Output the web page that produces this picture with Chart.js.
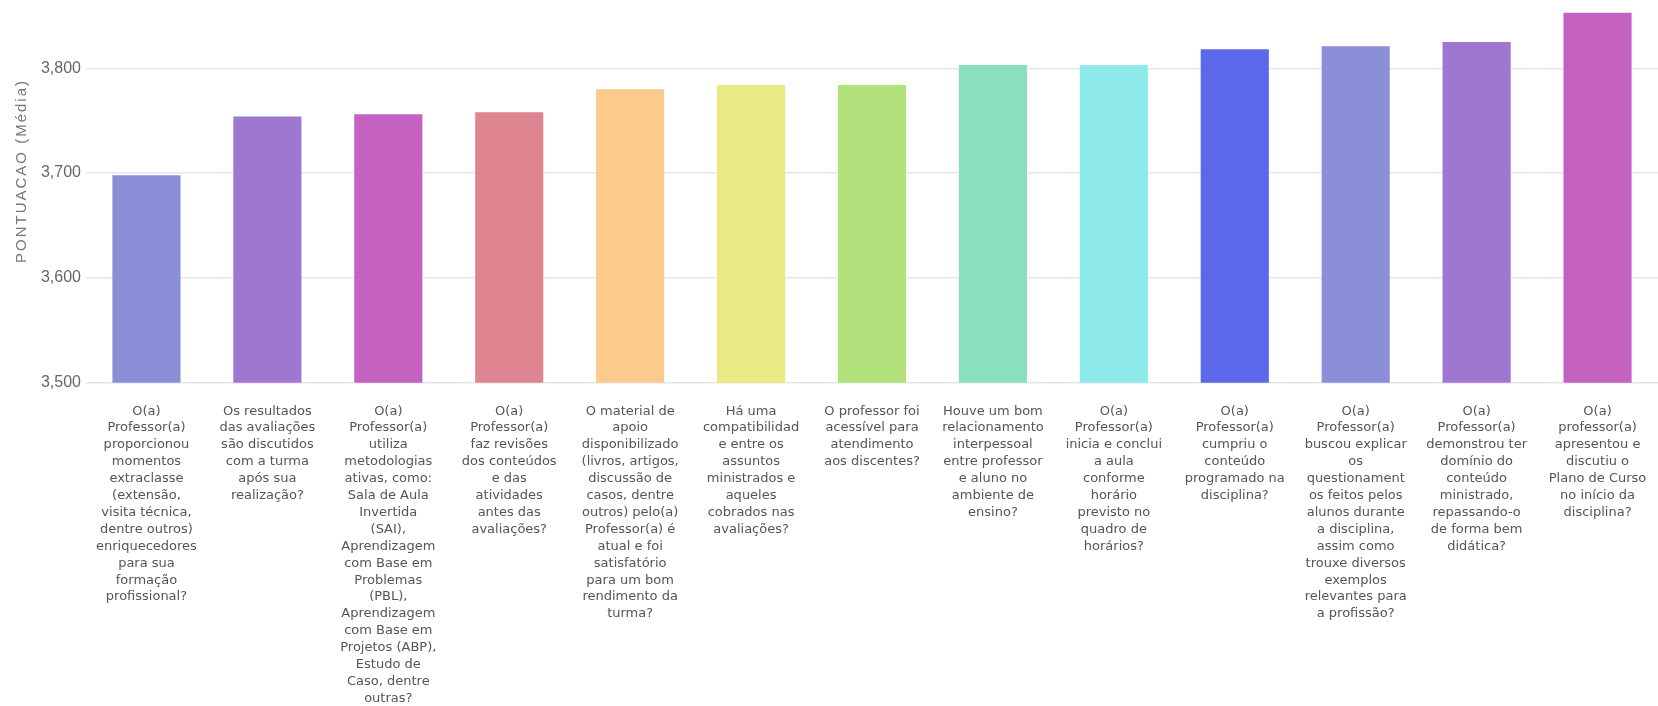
<!DOCTYPE html>
<html>
<head>
<meta charset="utf-8">
<script src="https://cdn.jsdelivr.net/npm/chart.js@4.4.1/dist/chart.umd.min.js"></script>
<style>
  html, body { margin: 0; padding: 0; background: #ffffff; }
  #wrap { width: 1658px; height: 706px; }
</style>
</head>
<body>
<div id="wrap"><canvas id="c" width="1658" height="706"></canvas></div>
<script>
const categories = [
  ["O(a)", "Professor(a)", "proporcionou", "momentos", "extraclasse", "(extensão,", "visita técnica,", "dentre outros)", "enriquecedores", "para sua", "formação", "profissional?"],
  ["Os resultados", "das avaliações", "são discutidos", "com a turma", "após sua", "realização?"],
  ["O(a)", "Professor(a)", "utiliza", "metodologias", "ativas, como:", "Sala de Aula", "Invertida", "(SAI),", "Aprendizagem", "com Base em", "Problemas", "(PBL),", "Aprendizagem", "com Base em", "Projetos (ABP),", "Estudo de", "Caso, dentre", "outras?"],
  ["O(a)", "Professor(a)", "faz revisões", "dos conteúdos", "e das", "atividades", "antes das", "avaliações?"],
  ["O material de", "apoio", "disponibilizado", "(livros, artigos,", "discussão de", "casos, dentre", "outros) pelo(a)", "Professor(a) é", "atual e foi", "satisfatório", "para um bom", "rendimento da", "turma?"],
  ["Há uma", "compatibilidad", "e entre os", "assuntos", "ministrados e", "aqueles", "cobrados nas", "avaliações?"],
  ["O professor foi", "acessível para", "atendimento", "aos discentes?"],
  ["Houve um bom", "relacionamento", "interpessoal", "entre professor", "e aluno no", "ambiente de", "ensino?"],
  ["O(a)", "Professor(a)", "inicia e conclui", "a aula", "conforme", "horário", "previsto no", "quadro de", "horários?"],
  ["O(a)", "Professor(a)", "cumpriu o", "conteúdo", "programado na", "disciplina?"],
  ["O(a)", "Professor(a)", "buscou explicar", "os", "questionament", "os feitos pelos", "alunos durante", "a disciplina,", "assim como", "trouxe diversos", "exemplos", "relevantes para", "a profissão?"],
  ["O(a)", "Professor(a)", "demonstrou ter", "domínio do", "conteúdo", "ministrado,", "repassando-o", "de forma bem", "didática?"],
  ["O(a)", "professor(a)", "apresentou e", "discutiu o", "Plano de Curso", "no início da", "disciplina?"]
];

const scores = [3.699, 3.755, 3.757, 3.759, 3.781, 3.785, 3.785, 3.804, 3.804, 3.819, 3.822, 3.826, 3.854];

const barColors = ["#8A8FD8", "#9E78CF", "#C561C1", "#DF8592", "#FBCB8D", "#E9EA83", "#B3E27C", "#8AE0BC", "#8EEAEB", "#5B68EA", "#8A8FD8", "#9E78CF", "#C561C1"];

const yTickValues = [3.5, 3.6, 3.7, 3.8];
const yAxisTitle = "PONTUACAO (Média)";

const yTitlePlugin = {
  id: 'yTitlePlugin',
  afterDraw(chart) {
    const ctx = chart.ctx;
    ctx.save();
    ctx.translate(21.5, 171);
    ctx.rotate(-Math.PI / 2);
    ctx.font = '15px "Liberation Sans", Arial, sans-serif';
    try { ctx.letterSpacing = '2px'; } catch (e) {}
    ctx.fillStyle = '#777777';
    ctx.textAlign = 'center';
    ctx.textBaseline = 'middle';
    ctx.fillText(yAxisTitle, 0, 0);
    ctx.restore();
  }
};

function zeroPad(scale) {
  scale.paddingTop = 0;
  scale.paddingBottom = 0;
  scale.paddingLeft = 0;
  scale.paddingRight = 0;
}

new Chart(document.getElementById('c'), {
  type: 'bar',
  data: {
    labels: categories,
    datasets: [{
      data: scores,
      backgroundColor: barColors,
      borderColor: 'rgba(255,255,255,0.45)',
      borderWidth: 1,
      barPercentage: 0.58,
      categoryPercentage: 1.0
    }]
  },
  options: {
    responsive: false,
    animation: false,
    devicePixelRatio: 1,
    layout: { autoPadding: false, padding: { top: 8, right: -4, left: 0, bottom: 0 } },
    plugins: {
      legend: { display: false },
      tooltip: { enabled: false },
      title: { display: false }
    },
    scales: {
      x: {
        grid: { display: false, drawTicks: false },
        border: { display: false },
        ticks: {
          autoSkip: false,
          maxRotation: 0,
          minRotation: 0,
          padding: 20,
          color: '#555555',
          font: { family: '"DejaVu Sans", Verdana, sans-serif', size: 13, lineHeight: 1.3 }
        },
        afterFit(scale) { scale.height = 323.3; zeroPad(scale); }
      },
      y: {
        min: 3.5,
        max: 3.8575,
        grid: { color: '#e6e6e6', lineWidth: 1.5, drawTicks: false },
        border: { display: false },
        afterBuildTicks(scale) {
          scale.ticks = yTickValues.map(v => ({ value: v }));
        },
        ticks: {
          padding: 5,
          color: '#666666',
          font: { family: '"Liberation Sans", Arial, sans-serif', size: 16 },
          callback: (v) => Number(v).toFixed(3).replace('.', ',')
        },
        afterFit(scale) { scale.width = 86; zeroPad(scale); }
      }
    }
  },
  plugins: [yTitlePlugin]
});
</script>
</body>
</html>
